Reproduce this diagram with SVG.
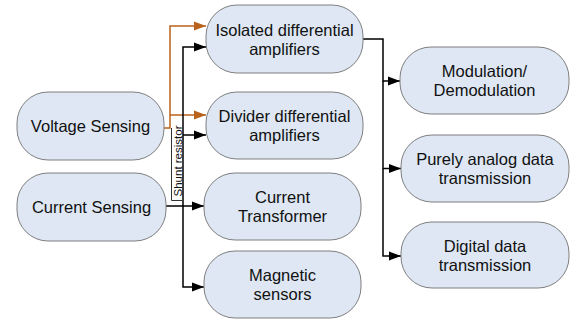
<svg xmlns="http://www.w3.org/2000/svg" width="578" height="321" viewBox="0 0 578 321">
  <defs>
    <marker id="arrowBlack" markerUnits="userSpaceOnUse" markerWidth="13" markerHeight="10" refX="12" refY="5" orient="auto">
      <path d="M0,0.5 L12,5 L0,9.5 Z" fill="#000"/>
    </marker>
    <marker id="arrowOrange" markerUnits="userSpaceOnUse" markerWidth="13" markerHeight="10" refX="12" refY="5" orient="auto">
      <path d="M0,0.5 L12,5 L0,9.5 Z" fill="#B8621C"/>
    </marker>
    <style>
      .node rect { fill: #DEE7F3; stroke: #7F7F7F; stroke-width: 1; }
      .node text, .label { font-family: "Liberation Sans", Arial, sans-serif; fill: #111; text-anchor: middle; }
      .node text { font-size: 16.5px; }
      .label { font-size: 11.5px; }
      .wire { fill: none; stroke: #000; stroke-width: 1.5; }
      .wire.volt { stroke: #B8621C; }
      .arrow { marker-end: url(#arrowBlack); }
      .volt.arrow { marker-end: url(#arrowOrange); }
    </style>
  </defs>

  <rect width="578" height="321" fill="#fff"/>

  <!-- connectors -->
  <g id="connectors">
    <!-- voltage sensing feeds -->
    <path class="wire volt arrow" d="M163,128 H170 V26 H206"/>
    <path class="wire volt arrow" d="M170,115 H206"/>
    <!-- current sensing feeds -->
    <path class="wire arrow" d="M166,206 H183 V47 H206"/>
    <path class="wire arrow" d="M183,135 H206"/>
    <path class="wire arrow" d="M183,206 H204"/>
    <path class="wire arrow" d="M183,206 V287 H204"/>
    <!-- amplifier output to transmission options -->
    <path class="wire arrow" d="M363,39 H383 V81 H400"/>
    <path class="wire arrow" d="M383,81 V168.5 H401"/>
    <path class="wire arrow" d="M383,168.5 V256 H401"/>
    <!-- shunt resistor label frame -->
    <path d="M171.5,128 V200.5 H183" fill="none" stroke="#333" stroke-width="1"/>
    <text class="label" transform="translate(181.5,161) rotate(-90)">Shunt resistor</text>
  </g>

  <!-- sensing sources -->
  <g id="voltage-sensing" class="node">
    <rect x="17" y="92" width="147" height="68" rx="31" ry="31"/>
    <text x="90.5" y="132">Voltage Sensing</text>
  </g>
  <g id="current-sensing" class="node">
    <rect x="17" y="173" width="149" height="68" rx="31" ry="31"/>
    <text x="91.5" y="213">Current Sensing</text>
  </g>

  <!-- sensing methods -->
  <g id="isolated-amplifiers" class="node">
    <rect x="206" y="5" width="157" height="68" rx="31" ry="31"/>
    <text x="284.5" y="35.5">Isolated differential</text>
    <text x="284.5" y="54.5">amplifiers</text>
  </g>
  <g id="divider-amplifiers" class="node">
    <rect x="206" y="92" width="157" height="67" rx="31" ry="31"/>
    <text x="284.5" y="121.5">Divider differential</text>
    <text x="284.5" y="140.5">amplifiers</text>
  </g>
  <g id="current-transformer" class="node">
    <rect x="204" y="173" width="157" height="67" rx="31" ry="31"/>
    <text x="282.5" y="202.5">Current</text>
    <text x="282.5" y="221.5">Transformer</text>
  </g>
  <g id="magnetic-sensors" class="node">
    <rect x="204" y="251" width="157" height="67" rx="31" ry="31"/>
    <text x="282.5" y="280.5">Magnetic</text>
    <text x="282.5" y="300">sensors</text>
  </g>

  <!-- transmission options -->
  <g id="modulation" class="node">
    <rect x="400" y="47" width="169" height="67" rx="31" ry="31"/>
    <text x="484.5" y="77">Modulation/</text>
    <text x="484.5" y="96">Demodulation</text>
  </g>
  <g id="analog-transmission" class="node">
    <rect x="401" y="135" width="168" height="67" rx="31" ry="31"/>
    <text x="485" y="165">Purely analog data</text>
    <text x="485" y="184">transmission</text>
  </g>
  <g id="digital-transmission" class="node">
    <rect x="401" y="222" width="168" height="66" rx="31" ry="31"/>
    <text x="485" y="251.5">Digital data</text>
    <text x="485" y="270.5">transmission</text>
  </g>
</svg>
